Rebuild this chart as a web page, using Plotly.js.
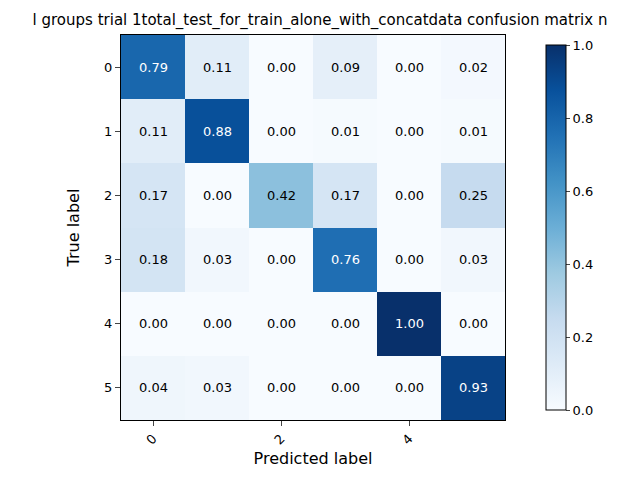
<!DOCTYPE html>
<html>
<head>
<meta charset="utf-8">
<script src="https://cdn.plot.ly/plotly-3.0.1.min.js"></script>
<style>body{margin:0}#plot{width:640px;height:480px}</style>
</head>
<body>
<div id="plot"></div>
<script>
const labels = ['0', '1', '2', '3', '4', '5'];
const matrix = [
  [0.79, 0.11, 0.00, 0.09, 0.00, 0.02],
  [0.11, 0.88, 0.00, 0.01, 0.00, 0.01],
  [0.17, 0.00, 0.42, 0.17, 0.00, 0.25],
  [0.18, 0.03, 0.00, 0.76, 0.00, 0.03],
  [0.00, 0.00, 0.00, 0.00, 1.00, 0.00],
  [0.04, 0.03, 0.00, 0.00, 0.00, 0.93]
];
const titleText = 'l groups trial 1total_test_for_train_alone_with_concatdata confusion matrix n';

// matplotlib "Blues"
const blues = [
  [0, '#f7fbff'], [0.125, '#deebf7'], [0.25, '#c6dbef'], [0.375, '#9ecae1'],
  [0.5, '#6baed6'], [0.625, '#4292c6'], [0.75, '#2171b5'], [0.875, '#08519c'], [1, '#08306b']
];

let annotations = [];
for (let i = 0; i < matrix.length; i++) {
  for (let j = 0; j < matrix[i].length; j++) {
    annotations.push({
      x: labels[j], y: labels[i], text: matrix[i][j].toFixed(2), showarrow: false,
      font: {color: matrix[i][j] > 0.5 ? 'white' : 'black', size: 13}
    });
  }
}

const trace = {
  type: 'heatmap', z: matrix, x: labels, y: labels,
  colorscale: blues, zmin: 0, zmax: 1,
  colorbar: {
    x: 1.081, xanchor: 'left', thickness: 20, len: 1, y: 0.5, yanchor: 'middle',
    outlinewidth: 1, outlinecolor: 'black', ticks: 'outside', ticklen: 4,
    tickvals: [0, 0.2, 0.4, 0.6, 0.8, 1.0], ticktext: ['0.0', '0.2', '0.4', '0.6', '0.8', '1.0'],
    tickfont: {size: 13}
  }
};

const layout = {
  width: 640, height: 480,
  margin: {l: 121, r: 135, t: 35, b: 60},
  font: {family: 'DejaVu Sans', color: 'black', size: 13},
  title: {text: titleText, x: 0.5, xanchor: 'center', y: 0.97, font: {size: 15}},
  xaxis: {
    title: {text: 'Predicted label', standoff: 6}, tickangle: -45, ticks: 'outside',
    showline: true, mirror: true, linecolor: 'black', showgrid: false, zeroline: false
  },
  yaxis: {
    title: {text: 'True label'}, autorange: 'reversed', ticks: 'outside',
    showline: true, mirror: true, linecolor: 'black', showgrid: false, zeroline: false
  },
  annotations: annotations,
  plot_bgcolor: 'white', paper_bgcolor: 'white'
};

Plotly.newPlot('plot', [trace], layout, {displayModeBar: false});
</script>
</body>
</html>
